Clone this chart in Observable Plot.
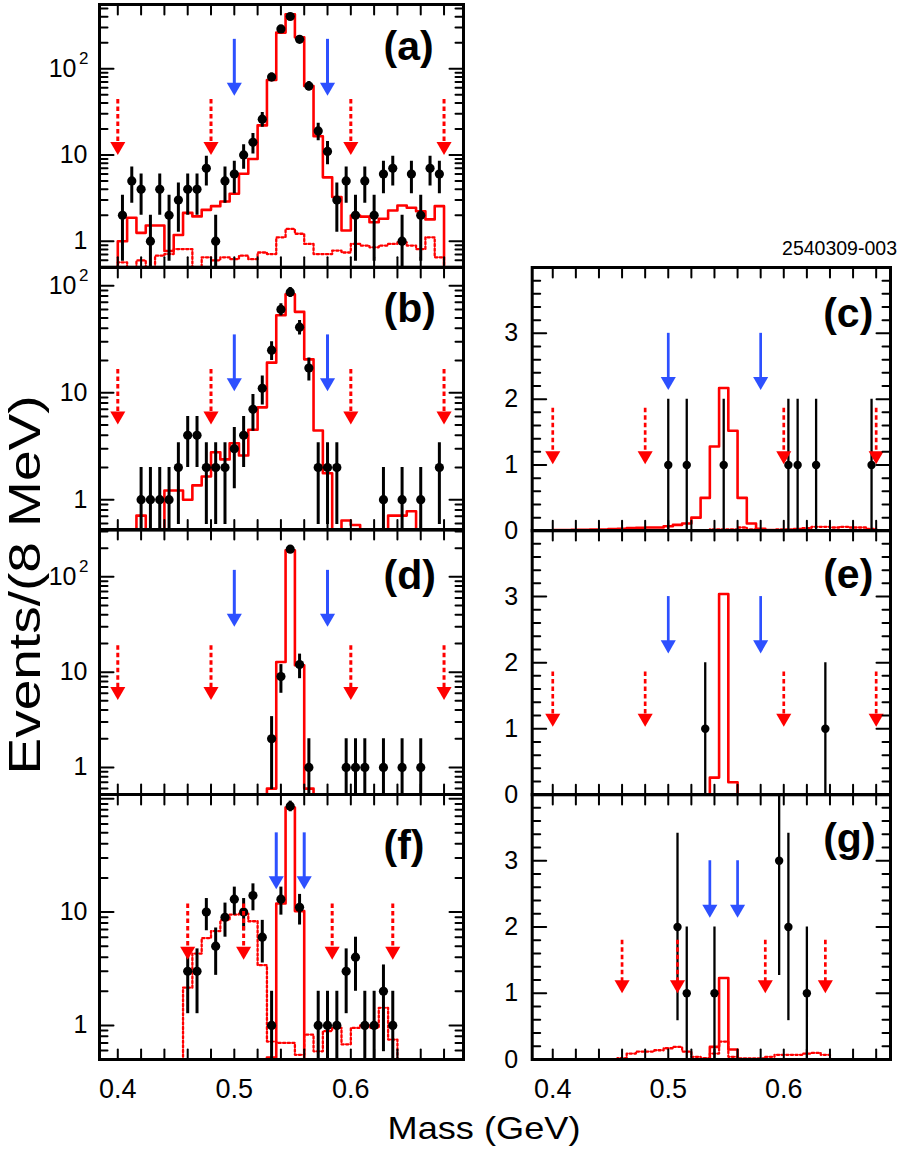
<!DOCTYPE html>
<html><head><meta charset="utf-8">
<script src="https://cdn.jsdelivr.net/npm/d3@7"></script>
<script src="https://cdn.jsdelivr.net/npm/@observablehq/plot@0.6"></script>
<style>
body{margin:0;background:#fff;}
#root{position:relative;width:898px;height:1151px;overflow:hidden;font-family:"Liberation Sans",Arial,Helvetica,sans-serif;color:#000;}
.pl{position:absolute;}
.txt{position:absolute;white-space:nowrap;line-height:1;}
</style></head><body><div id="root"></div>
<script>
// ---------------- data ----------------
const binCenters = [0.404,0.412,0.420,0.428,0.436,0.444,0.452,0.460,0.468,0.476,0.484,0.492,0.500,0.508,0.516,0.524,0.532,0.540,0.548,0.556,0.564,0.572,0.580,0.588,0.596,0.604,0.612,0.620,0.628,0.636,0.644,0.652,0.660,0.668,0.676];
const binHalfWidth = 0.004;

// (a)
const aCounts = [2,5,4,1,4,2,3,4,4,7,1,5,6,10,14,26,80,289,403,219,63,19,11,3,5,2,5,2,6,7,1,6,2,7,6];
const aSignalMC = [1.0,1.87,1.25,1.52,1.52,0.77,1.18,2.13,1.94,2.31,2.55,2.89,3.55,6.06,8.98,22,74,262,428,231,63,16.5,5.5,3.25,1.33,1.99,1.93,1.66,1.82,2.27,2.6,2.44,2.23,1.79,2.55];
const aBackgroundMC = [0.57,0.5,0.6,0.5,0.68,0.71,0.81,0.81,0.4,0.65,0.6,0.65,0.62,0.68,0.62,0.74,0.71,1.11,1.39,1.22,0.93,0.71,0.71,0.78,0.74,0.93,0.89,0.85,0.89,0.93,0.97,0.89,0.81,1.11,0.65];
// (b)
const bCounts = [0,0,1,1,1,1,2,4,4,2,2,2,3,4,7,11,25,60,87,41,17,2,2,2,0,0,0,0,1,0,1,0,1,0,2];
const bSignalMC = [0.1,0.52,0.71,0.1,0.1,1.22,1.22,1.0,1.36,1.65,2.78,2.38,3.37,2.59,4.5,7.3,19.1,53,83,57,20.5,4.43,1.77,0.1,0.64,0.58,0.1,0.1,0.1,0.71,0.71,0.78,0.1,0.1,0.1];
// (d)
const dCounts = [0,0,0,0,0,0,0,0,0,0,0,0,0,0,0,0,2,9,195,12,1,0,0,0,1,1,1,0,1,0,1,0,1,0,0];
const dSignalMC = [0.1,0.1,0.1,0.1,0.1,0.1,0.1,0.1,0.1,0.1,0.1,0.1,0.1,0.1,0.1,0.1,0.6,12.8,190,11.8,0.6,0.1,0.1,0.1,0.1,0.1,0.1,0.1,0.1,0.1,0.1,0.1,0.1,0.1,0.1];
// (f)
const fCounts = [0,0,0,0,0,0,0,3,3,10,5,9,13,10,14,6,1,13,86,11,0,1,1,1,3,4,1,1,2,1,0,0,0,0,0];
const fSignalMC = [0.1,0.1,0.1,0.1,0.1,0.1,0.1,0.1,0.1,0.1,0.1,0.1,0.1,0.1,0.1,0.1,0.52,11.9,83.5,10.2,0.1,0.1,0.1,0.1,0.1,0.1,0.1,0.1,0.1,0.1,0.1,0.1,0.1,0.1,0.1];
const fBackgroundMC = [0.1,0.1,0.1,0.1,0.1,0.1,0.1,2.15,4.3,5.9,6.8,8.5,9.5,9.7,8.3,3.4,0.72,0.7,0.7,0.55,0.83,0.59,0.89,0.95,0.68,0.95,1.0,0.95,1.43,0.75,0.1,0.1,0.1,0.1,0.1];
// (c)
const cCounts = [0,0,0,0,0,0,0,0,0,0,0,0,1,0,1,0,0,0,1,0,0,0,0,0,0,1,1,0,1,0,0,0,0,0,1];
const cSignalMC = [0.01,0.01,0.015,0.015,0.02,0.02,0.025,0.03,0.04,0.045,0.05,0.05,0.07,0.09,0.11,0.2,0.5,1.28,2.17,1.52,0.5,0.11,0.03,0.01,0.005,0,0,0,0,0,0,0,0,0,0];
const cBackgroundMC = [0,0,0,0,0,0,0,0,0,0,0,0,0,0,0,0,0.01,0.02,0.02,0.02,0.05,0.02,0.01,0.01,0.02,0.02,0.03,0.04,0.06,0.06,0.05,0.06,0.05,0.05,0.03];
// (e)
const eCounts = [0,0,0,0,0,0,0,0,0,0,0,0,0,0,0,0,1,0,0,0,0,0,0,0,0,0,0,0,0,1,0,0,0,0,0];
const eSignalMC = [0,0,0,0,0,0,0,0,0,0,0,0,0,0,0,0,0,0.26,3.04,0.19,0,0,0,0,0,0,0,0,0,0,0,0,0,0,0];
// (g)
const gCounts = [0,0,0,0,0,0,0,0,0,0,0,0,0,2,1,0,0,1,0,0,0,0,0,0,3,2,0,1,0,0,0,0,0,0,0];
const gSignalMC = [0,0,0,0,0,0,0,0,0,0,0,0,0,0,0,0,0,0.19,1.23,0.15,0,0,0,0,0,0,0,0,0,0,0,0,0,0,0];
const gBackgroundMC = [0,0,0,0,0,0,0,0.02,0.09,0.12,0.12,0.14,0.17,0.19,0.12,0.04,0.02,0.09,0.27,0.04,0.015,0.015,0.015,0.04,0.07,0.07,0.07,0.09,0.1,0.07,0,0,0,0,0];

// arrow positions (GeV)
const sidebandWide = [0.40, 0.48, 0.60, 0.68];
const signalWide = [0.50, 0.58];
const sidebandNarrow = [0.46, 0.508, 0.584, 0.636];
const signalNarrow = [0.536, 0.56];

// tick labels
const xTickValues = [0.4, 0.5, 0.6];
const xTickLabels = ["0.4", "0.5", "0.6"];
const logTickValues = [1, 10, 100];
const logTickLabels = ["1", "10", "10"];
const logTickExponents = ["", "", "2"];
const linTickValues = [0, 1, 2, 3];
const linTickLabels = ["0", "1", "2", "3"];
const linTickExponents = ["", "", "", ""];

// ---------------- drawing ----------------
const FONT = '"Liberation Sans", Arial, Helvetica, sans-serif';
const RED = "#ff0000", BLUE = "#2d50ff";
const tickShape = {draw(ctx, l) { ctx.moveTo(0, 0); ctx.lineTo(0, -l); }};

function steps(values, floor) {
  const n = values.length;
  const pts = [{x: binCenters[0] - binHalfWidth, y: floor}];
  values.forEach((v, i) => {
    const y = Math.max(v, floor);
    pts.push({x: binCenters[i] - binHalfWidth, y});
    pts.push({x: binCenters[i] + binHalfWidth, y});
  });
  pts.push({x: binCenters[n - 1] + binHalfWidth, y: floor});
  return pts;
}

const panels = [
  {label:"(a)", col:"L", top:4, bottom:266.7, type:"log", yDomain:[0.5,555], counts:aCounts, fit:aSignalMC, bkg:aBackgroundMC,
   yt:logTickValues, yl:logTickLabels, ye:logTickExponents, side:sidebandWide, sideY:[44,10], sig:signalWide, sigY:[219,48.5], ldy:26},
  {label:"(b)", col:"L", top:266.7, bottom:529.3, type:"log", yDomain:[0.52,148], counts:bCounts, fit:bSignalMC, bkg:null,
   yt:logTickValues, yl:logTickLabels, ye:logTickExponents, side:sidebandWide, sideY:[16.5,5.05], sig:signalWide, sigY:[34.7,10.3], ldy:25},
  {label:"(d)", col:"L", top:529.3, bottom:794.3, type:"log", yDomain:[0.52,314], counts:dCounts, fit:dSignalMC, bkg:null,
   yt:logTickValues, yl:logTickLabels, ye:logTickExponents, side:sidebandWide, sideY:[18.9,5.1], sig:signalWide, sigY:[117,29.9], ldy:30},
  {label:"(f)", col:"L", top:794.3, bottom:1059.3, type:"log", yDomain:[0.5,109], counts:fCounts, fit:fSignalMC, bkg:fBackgroundMC,
   yt:logTickValues.slice(0,2), yl:logTickLabels.slice(0,2), ye:logTickExponents.slice(0,2), side:sidebandNarrow, sideY:[11.8,3.8], sig:signalNarrow, sigY:[50,15.9], ldy:35, xlab:true},
  {label:"(c)", col:"R", top:266.7, bottom:530, type:"lin", yDomain:[0,4], counts:cCounts, fit:cSignalMC, bkg:cBackgroundMC,
   yt:linTickValues, yl:linTickLabels, ye:linTickExponents, side:sidebandWide, sideY:[1.86,1.01], sig:signalWide, sigY:[3.0,2.14], ldy:30},
  {label:"(e)", col:"R", top:530, bottom:794.3, type:"lin", yDomain:[0,4], counts:eCounts, fit:eSignalMC, bkg:null,
   yt:linTickValues, yl:linTickLabels, ye:linTickExponents, side:sidebandWide, sideY:[1.86,1.03], sig:signalWide, sigY:[3.0,2.14], ldy:28},
  {label:"(g)", col:"R", top:794.3, bottom:1059.3, type:"lin", yDomain:[0,4], counts:gCounts, fit:gSignalMC, bkg:gBackgroundMC,
   yt:linTickValues, yl:linTickLabels, ye:linTickExponents, side:sidebandNarrow, sideY:[1.8,1.0], sig:signalNarrow, sigY:[3.0,2.14], ldy:28.7, xlab:true}
];

const cols = {
  L: {left:0, width:470, ml:99, mr:7, xDomain:[0.3843,0.6967], labelDx:284, ylDx:-12, dotR:4.6, errW:3, arrW:3},
  R: {left:470, width:428, ml:61.7, mr:8, xDomain:[0.3822,0.6924], labelDx:291, ylDx:-14, dotR:4.2, errW:2.3, arrW:2.7}
};

const root = document.getElementById("root");

panels.forEach(p => {
  const c = cols[p.col];
  const isLog = p.type === "log";
  const floor = isLog ? 0.1 : 0;
  const mt = 3, mb = p.xlab ? 60 : 3;
  const ph = p.bottom - p.top;

  // tick positions
  let yMajor = [], yMinor = [];
  if (isLog) {
    for (let e = -1; e <= 3; e++) for (let m = 1; m < 10; m++) {
      const v = m * Math.pow(10, e);
      if (v >= p.yDomain[0] && v <= p.yDomain[1]) (m === 1 ? yMajor : yMinor).push(v);
    }
  } else {
    yMajor = d3.range(0, 4.0001, 1);
    yMinor = d3.range(0, 4.0001, 0.2).filter(v => Math.abs(v - Math.round(v)) > 1e-6);
  }
  const xMinor = d3.range(0.40, 0.6801, 0.02);

  const pts = binCenters.map((x, i) => ({x, n: p.counts[i]})).filter(d => d.n > 0);
  const sideArr = p.side.map(x => ({x, tail: p.sideY[0], tip: p.sideY[1]}));
  const sigArr = p.sig.map(x => ({x, tail: p.sigY[0], tip: p.sigY[1]}));
  const yLab = p.yt.map((v, i) => ({v, t: p.yl[i], e: p.ye[i]}));

  const marks = [];
  if (p.bkg) marks.push(Plot.line(steps(p.bkg, floor), {x: "x", y: "y", stroke: RED, strokeWidth: 2.3, strokeDasharray: "2.3,2.3", clip: true}));
  marks.push(Plot.line(steps(p.fit, floor), {x: "x", y: "y", stroke: RED, strokeWidth: 2.6, clip: true}));
  marks.push(Plot.ruleX(pts, {x: "x", y1: d => Math.max(d.n - Math.sqrt(d.n), floor), y2: d => d.n + Math.sqrt(d.n), stroke: "black", strokeWidth: c.errW, clip: true}));
  marks.push(Plot.dot(pts, {x: "x", y: "n", r: c.dotR, fill: "black", stroke: "none"}));
  // arrows
  marks.push(Plot.ruleX(sideArr, {x: "x", y1: "tail", y2: "tip", stroke: RED, strokeWidth: c.arrW, strokeDasharray: "4.5,3", insetBottom: 11}));
  marks.push(Plot.ruleX(sigArr, {x: "x", y1: "tail", y2: "tip", stroke: BLUE, strokeWidth: c.arrW, insetBottom: 11}));
  marks.push(Plot.dot(sideArr, {x: "x", y: "tip", symbol: "triangle", rotate: 180, r: 5.6, fill: RED, stroke: "none", dy: -8.7}));
  marks.push(Plot.dot(sigArr, {x: "x", y: "tip", symbol: "triangle", rotate: 180, r: 5.6, fill: BLUE, stroke: "none", dy: -8.7}));
  // ticks (inward, all four sides)
  const tk = {shape: tickShape, anchor: "start", stroke: "black", strokeWidth: 2};
  marks.push(Plot.vector(yMajor, {...tk, y: d => d, frameAnchor: "left", length: 14, rotate: 90}));
  marks.push(Plot.vector(yMinor, {...tk, y: d => d, frameAnchor: "left", length: 8, rotate: 90}));
  marks.push(Plot.vector(yMajor, {...tk, y: d => d, frameAnchor: "right", length: 14, rotate: -90}));
  marks.push(Plot.vector(yMinor, {...tk, y: d => d, frameAnchor: "right", length: 8, rotate: -90}));
  marks.push(Plot.vector(xMinor, {...tk, x: d => d, frameAnchor: "bottom", length: 10, rotate: 0}));
  marks.push(Plot.vector(xMinor, {...tk, x: d => d, frameAnchor: "top", length: 10, rotate: 180}));
  marks.push(Plot.frame({stroke: "black", strokeWidth: 3}));
  // tick labels (with superscript exponents drawn as separate smaller text)
  marks.push(Plot.text(yLab.filter(d => !d.e), {y: "v", text: "t", frameAnchor: "left", dx: c.ylDx, textAnchor: "end", lineAnchor: "middle", fontSize: 25}));
  marks.push(Plot.text(yLab.filter(d => d.e), {y: "v", text: "t", frameAnchor: "left", dx: c.ylDx - 11, textAnchor: "end", lineAnchor: "middle", fontSize: 25}));
  marks.push(Plot.text(yLab.filter(d => d.e), {y: "v", text: "e", frameAnchor: "left", dx: c.ylDx + 1, dy: -10, textAnchor: "end", lineAnchor: "middle", fontSize: 17}));
  if (p.xlab) marks.push(Plot.text(xTickValues, {x: d => d, text: (d, i) => xTickLabels[i], frameAnchor: "bottom", dy: 19, lineAnchor: "top", textAnchor: "middle", fontSize: 27}));
  // panel label
  marks.push(Plot.text([p.label], {text: d => d, frameAnchor: "top-left", dx: c.labelDx, dy: p.ldy, textAnchor: "start", lineAnchor: "top", fontSize: 41, fontWeight: "bold"}));

  const chart = Plot.plot({
    width: c.width,
    height: ph + mt + mb,
    marginLeft: c.ml, marginRight: c.mr, marginTop: mt, marginBottom: mb,
    x: {type: "linear", domain: c.xDomain, axis: null},
    y: {type: isLog ? "log" : "linear", domain: p.yDomain, axis: null},
    style: {background: "transparent", fontFamily: FONT, color: "black", overflow: "visible"},
    marks
  });
  chart.classList.add("pl");
  chart.style.left = c.left + "px";
  chart.style.top = (p.top - mt) + "px";
  chart.style.maxWidth = "none";
  root.appendChild(chart);
});

// axis titles and ID
function addText(txt, css) {
  const d = document.createElement("div");
  d.className = "txt";
  d.textContent = txt;
  Object.assign(d.style, css);
  root.appendChild(d);
  return d;
}
addText("2540309-003", {right: "1px", top: "239px", fontSize: "19.5px"});
addText("Mass (GeV)", {left: "484px", top: "1112px", fontSize: "32px", transform: "translateX(-50%) scaleX(1.13)"});
addText("Events/(8 MeV)", {left: "25px", top: "585px", fontSize: "44px", transform: "translate(-50%,-50%) rotate(-90deg) scaleX(1.25)"});
</script></body></html>
